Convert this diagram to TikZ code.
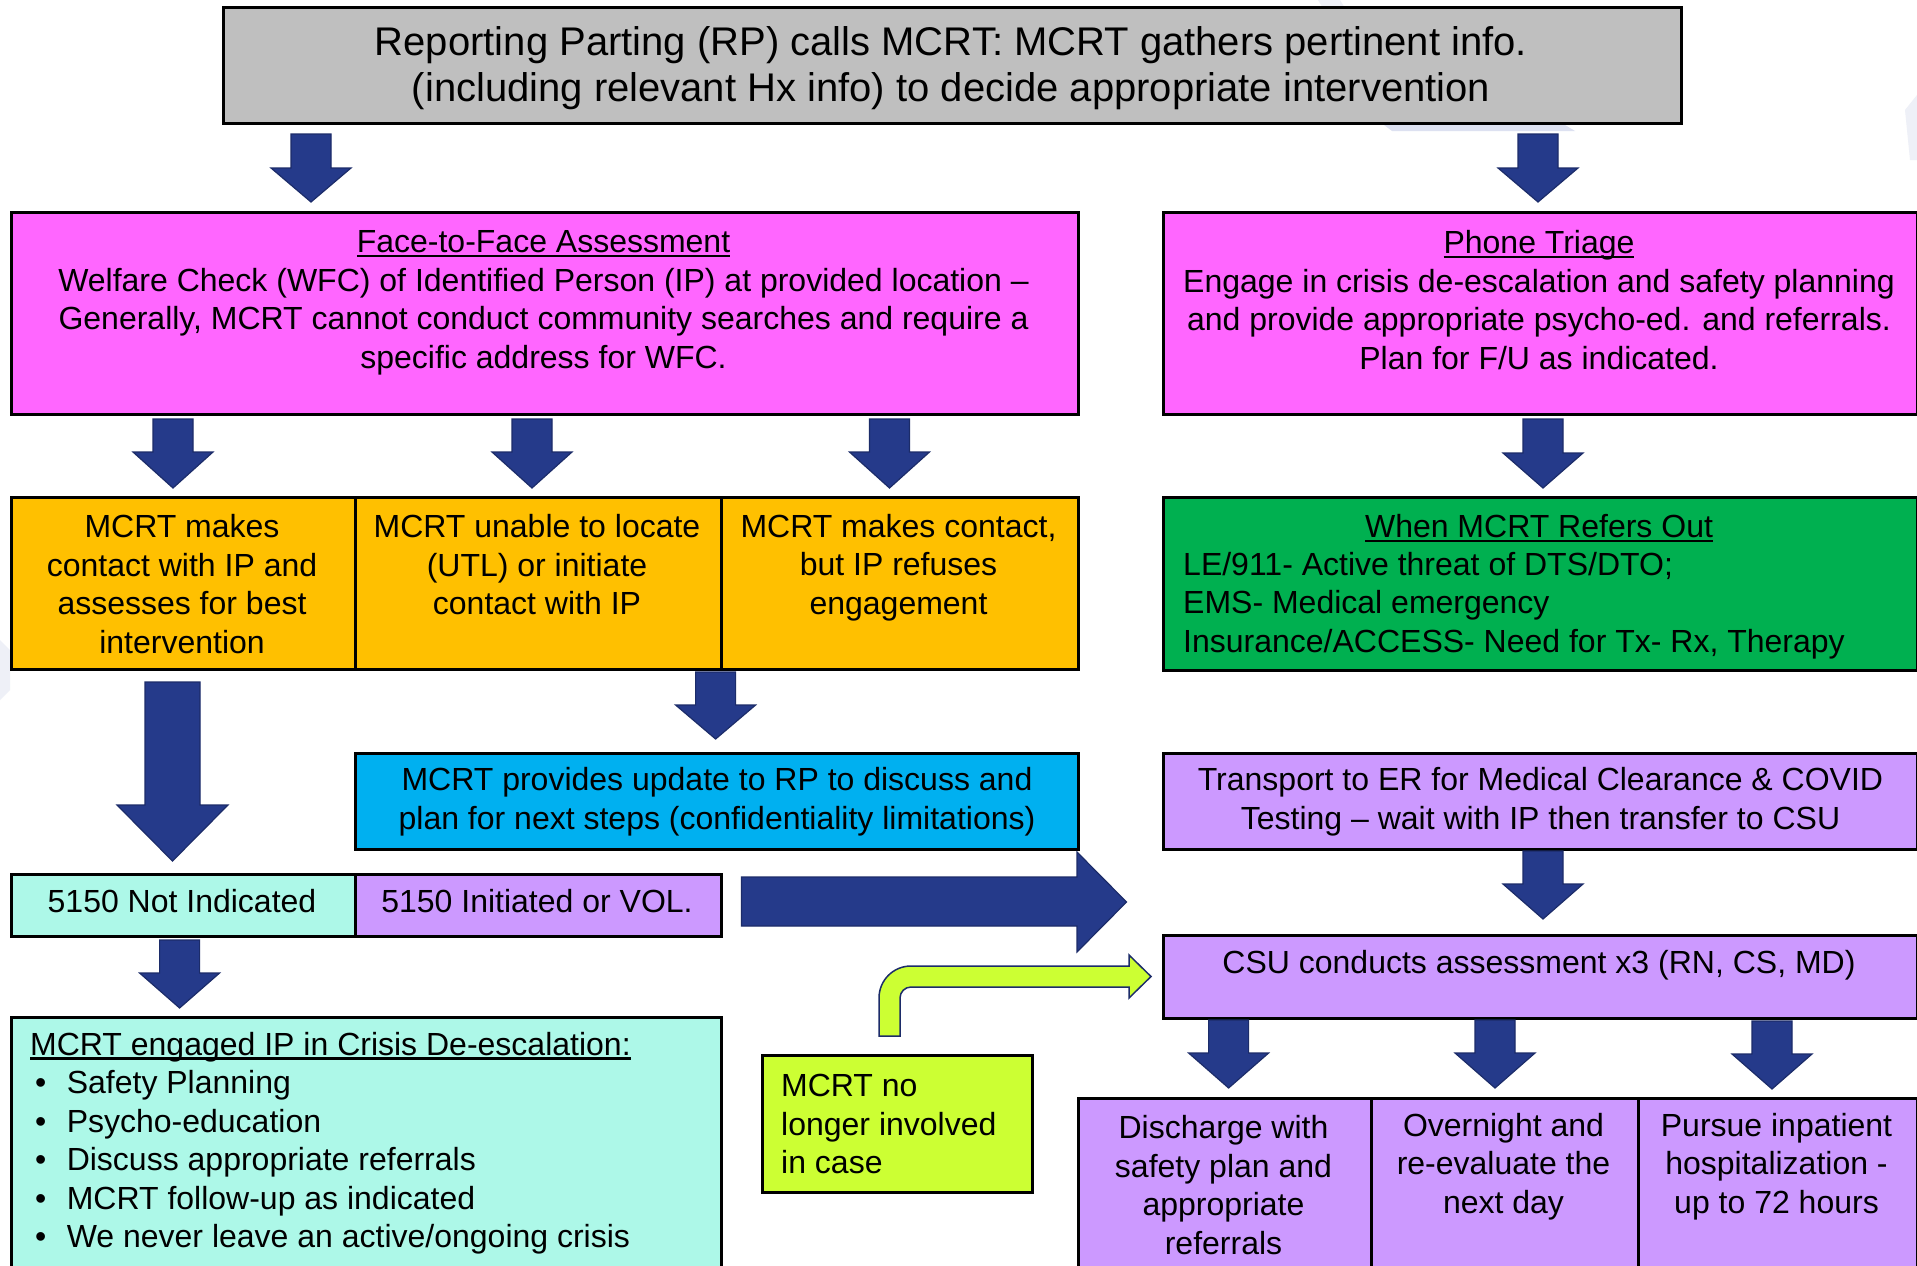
\documentclass[tikz,border=0pt]{standalone}
\usepackage{fontspec}
\setmainfont{Liberation Sans}
\usetikzlibrary{calc}
\definecolor{cgray}{HTML}{BFBFBF}
\definecolor{cmag}{HTML}{FF66FF}
\definecolor{corange}{HTML}{FFC000}
\definecolor{cgreen}{HTML}{00B050}
\definecolor{ccyan}{HTML}{00B0F0}
\definecolor{cpurple}{HTML}{CC99FF}
\definecolor{cmint}{HTML}{ADF8E8}
\definecolor{clime}{HTML}{CCFF33}
\definecolor{navy}{RGB}{37,58,138}
\definecolor{navyline}{RGB}{28,44,105}
\definecolor{wmark}{HTML}{DDE1F1}
\definecolor{wmarklight}{HTML}{EEF0F7}
\newcommand\myul[1]{\setbox0\hbox{#1}\rlap{\rule[-4.5pt]{\wd0}{2.5pt}}\box0}
\newcommand\bul{\makebox[31.6pt][l]{•}}
\newcommand\dnarr[4]{%
  \filldraw[barrow] ({#1-20},#2) -- ({#1+20},#2) -- ({#1+20},#3) -- ({#1+40},#3)
    -- (#1,#4) -- ({#1-40},#3) -- ({#1-20},#3) -- cycle;}
\tikzset{
  box/.style={draw=black, line width=3pt, inner sep=0pt, anchor=north west},
  txt/.style={inner sep=0pt, font=\fontsize{32}{38.5}\selectfont, align=center},
  txtl/.style={inner sep=0pt, font=\fontsize{32}{38.5}\selectfont, align=left, anchor=west},
  barrow/.style={fill=navy, draw=navyline, line width=1.2pt, line join=miter},
  limearrow/.style={fill=clime, draw=navyline, line width=1.5pt, line join=miter},
}
\begin{document}
\begin{tikzpicture}[x=1pt,y=-1pt]
\useasboundingbox (0,0) rectangle (1917,1266);
\clip (0,0) rectangle (1917,1266);
\fill[white] (0,0) rectangle (1917,1266);

% faint watermark traces
\fill[wmarklight] (1318,0) -- (1340,0) -- (1420,130) -- (1398,130) -- cycle;
\fill[wmark] (1380,122) -- (1560,122) -- (1575,131) -- (1392,131) -- cycle;
\fill[wmarklight] (1905,110) -- (1917,95) -- (1917,160) -- (1910,160) -- cycle;
\fill[wmarklight] (0,640) -- (10,650) -- (10,690) -- (0,700) -- cycle;

% top box
\node[box,fill=cgray,minimum width=1458pt,minimum height=116pt] (top) at (222,6) {};
\node[txt,font=\fontsize{40}{46.5}\selectfont] (topt) at (951,68)
  {Reporting Parting (RP) calls MCRT: MCRT gathers pertinent info.\\(including relevant Hx info) to decide appropriate intervention};

% face to face / phone triage
\node[box,fill=cmag,minimum width=1067pt,minimum height=202pt] (ftf) at (10,211) {};
\node[txt] (ftft) at (543.5,303) {\myul{Face-to-Face Assessment}\\Welfare Check (WFC) of Identified Person (IP) at provided location –\\Generally, MCRT cannot conduct community searches and require a\\specific address for WFC.};
\node[box,fill=cmag,minimum width=754pt,minimum height=202pt] (ph) at (1162,211) {};
\node[txt] (pht) at (1539,300) {\myul{Phone Triage}\\Engage in crisis de-escalation and safety planning\\and provide appropriate psycho-ed. and referrals.\\Plan for F/U as indicated.};

% orange row
\node[box,fill=corange,minimum width=344pt,minimum height=172pt] (o1) at (10,496) {};
\node[box,fill=corange,minimum width=366pt,minimum height=172pt] (o2) at (354,496) {};
\node[box,fill=corange,minimum width=357pt,minimum height=172pt] (o3) at (720,496) {};
\node[txt] (o1t) at (182,584) {MCRT makes\\contact with IP and\\assesses for best\\intervention};
\node[txt] (o2t) at (537,565) {MCRT unable to locate\\(UTL) or initiate\\contact with IP};
\node[txt] (o3t) at (898.5,567.5) {MCRT makes contact,\\but IP refuses\\engagement};

% green
\node[box,fill=cgreen,minimum width=754pt,minimum height=173pt] (gr) at (1162,496) {};
\node[txt] (grh) at (1539,528.5) {\myul{When MCRT Refers Out}};
\node[txtl] (grt) at (1183,605.5) {LE/911- Active threat of DTS/DTO;\\EMS- Medical emergency\\Insurance/ACCESS- Need for Tx- Rx, Therapy};

% blue and transport
\node[box,fill=ccyan,minimum width=723pt,minimum height=96pt] (bl) at (354,752) {};
\node[txt] (blt) at (bl.center) {MCRT provides update to RP to discuss and\\plan for next steps (confidentiality limitations)};
\node[box,fill=cpurple,minimum width=754pt,minimum height=96pt] (tr) at (1162,752) {};
\node[txt] (trt) at (tr.center) {Transport to ER for Medical Clearance \& COVID\\Testing – wait with IP then transfer to CSU};

% 5150 row
\node[box,fill=cmint,minimum width=344pt,minimum height=62pt] (n1) at (10,873) {};
\node[box,fill=cpurple,minimum width=366pt,minimum height=62pt] (n2) at (354,873) {};
\node[txt] (n1t) at (182,901.5) {5150 Not Indicated};
\node[txt] (n2t) at (537,901.5) {5150 Initiated or VOL.};

% CSU
\node[box,fill=cpurple,minimum width=754pt,minimum height=83pt] (csu) at (1162,934) {};
\node[txt] (csut) at (1539,965) {CSU conducts assessment x3 (RN, CS, MD)};

% mint box
\node[box,fill=cmint,minimum width=710pt,minimum height=290pt] (mint) at (10,1016) {};
\node[txtl] (minth) at (30,1047) {\myul{MCRT engaged IP in Crisis De-escalation:}};
\node[txtl] (mintt) at (35,1162.5) {\bul Safety Planning\\\bul Psycho-education\\\bul Discuss appropriate referrals\\\bul MCRT follow-up as indicated\\\bul We never leave an active/ongoing crisis};

% lime box
\node[box,fill=clime,minimum width=270pt,minimum height=137pt] (lime) at (761,1054) {};
\node[txtl] (limet) at (781,1124) {MCRT no\\longer involved\\in case};

% bottom row
\node[box,fill=cpurple,minimum width=293pt,minimum height=200pt] (b1) at (1077,1097) {};
\node[box,fill=cpurple,minimum width=267pt,minimum height=200pt] (b2) at (1370,1097) {};
\node[box,fill=cpurple,minimum width=279pt,minimum height=200pt] (b3) at (1637,1097) {};
\node[txt] (b1t) at (1223.5,1185) {Discharge with\\safety plan and\\appropriate\\referrals};
\node[txt] (b2t) at (1503.5,1166.5) {Overnight and\\re-evaluate the\\next day};
\node[txt] (b3t) at (1776.5,1166.5) {Pursue inpatient\\hospitalization -\\up to 72 hours};

% block arrows
\dnarr{311}{134}{168}{202}
\dnarr{1538}{134}{168}{202}
\dnarr{173}{419}{452}{488}
\dnarr{532}{419}{452}{488}
\dnarr{889.5}{419}{452}{488}
\dnarr{1543}{419}{453}{488}
\dnarr{715.6}{672}{705}{739}
\dnarr{1543}{851}{884}{919}
\dnarr{179.6}{940}{973}{1008}
\dnarr{1228.6}{1020}{1053}{1088}
\dnarr{1495}{1020}{1053}{1088}
\dnarr{1772}{1021}{1054}{1089}
% big down arrow
\filldraw[barrow] (145,682) -- (200,682) -- (200,805) -- (228,805) -- (172.5,861)
  -- (117,805) -- (145,805) -- cycle;
% big right arrow
\filldraw[barrow] (741.5,877) -- (1077,877) -- (1077,852) -- (1126.5,902)
  -- (1077,952) -- (1077,926) -- (741.5,926) -- cycle;
% lime bent arrow
\filldraw[limearrow] (879,1036) -- (879,998) .. controls (879,980.3) and (893.3,966) .. (911,966)
  -- (1129,966) -- (1129,955) -- (1151,976.5) -- (1129,998) -- (1129,987) -- (911,987)
  .. controls (904.9,987) and (900,991.9) .. (900,998) -- (900,1036) -- cycle;
\end{tikzpicture}
\end{document}
